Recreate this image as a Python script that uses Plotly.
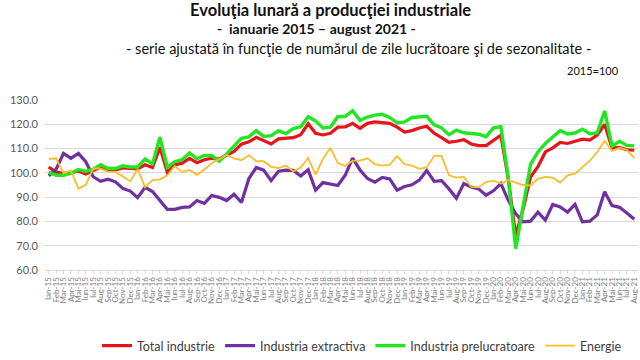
import plotly.graph_objects as go

luni = ["Ian", "Feb", "Mar", "Apr", "Mai", "Iun", "Iul", "Aug", "Sep", "Oct", "Nov", "Dec"]
categories = [f"{m}-{y}" for y in range(15, 22) for m in luni][:80]

total_industrie = [102.4, 100.3, 99.8, 100.0, 100.8, 99.5, 101.0, 102.3, 101.3, 101.2, 102.0, 101.8,
                   101.6, 103.3, 102.2, 110.5, 100.3, 103.3, 104.0, 106.0, 104.2, 105.4, 106.0, 105.7,
                   107.3, 108.8, 111.8, 112.8, 114.6, 113.1, 111.9, 114.0, 114.2, 114.5, 115.7, 120.2,
                   116.3, 115.6, 116.3, 118.8, 118.9, 120.4, 118.3, 120.4, 121.0, 120.8, 120.4, 118.8,
                   116.8, 117.4, 118.5, 119.2, 116.3, 114.5, 112.6, 113.0, 113.7, 111.9, 111.2, 111.2,
                   113.5, 115.5, 97.5, 74.2, 85.0, 98.3, 102.5, 108.6, 110.3, 112.5, 112.1, 113.1,
                   113.9, 113.5, 115.5, 120.0, 110.2, 110.5, 109.5, 109.3]

industria_extractiva = [98.8, 101.5, 108.0, 106.0, 108.0, 104.6, 98.4, 96.5, 97.4, 96.3, 93.6, 92.5,
                        89.8, 94.0, 92.3, 88.8, 85.0, 85.0, 85.8, 86.0, 88.6, 87.4, 90.7, 89.9,
                        88.6, 91.2, 87.8, 97.6, 102.2, 101.1, 96.8, 100.7, 101.1, 101.0, 98.7, 101.3,
                        92.9, 96.0, 95.5, 94.8, 99.0, 106.1, 101.2, 97.7, 96.2, 98.1, 97.5, 92.9,
                        94.4, 95.1, 97.0, 101.0, 96.5, 96.8, 93.4, 89.5, 95.6, 94.2, 93.4, 90.8,
                        92.6, 95.6, 88.7, 83.2, 79.8, 80.1, 83.8, 80.5, 87.0, 86.0, 83.8, 87.0,
                        79.8, 80.1, 82.7, 92.2, 86.5, 85.8, 83.5, 80.9]

industria_prelucratoare = [100.2, 99.0, 99.0, 99.8, 101.4, 100.6, 101.5, 103.4, 101.8, 101.8, 102.9, 102.4,
                           102.4, 105.7, 103.7, 114.7, 102.3, 104.6, 105.4, 108.2, 105.8, 107.2, 107.1, 104.8,
                           107.8, 111.0, 114.2, 114.8, 117.4, 115.0, 115.3, 117.3, 116.2, 118.2, 119.0, 123.1,
                           121.4, 118.5, 118.8, 123.1, 123.3, 125.5, 121.6, 123.0, 123.8, 124.1, 122.8, 120.6,
                           121.0, 122.8, 123.1, 123.3, 119.8, 118.5, 115.7, 117.6, 116.5, 116.3, 115.9, 114.9,
                           118.5, 119.0, 98.0, 68.8, 86.0, 103.5, 108.6, 112.1, 114.8, 117.4, 116.0, 116.4,
                           118.0, 116.1, 116.4, 125.5, 111.0, 113.0, 111.3, 111.1]

energie = [105.7, 106.0, 99.8, 101.0, 93.5, 95.1, 101.8, 101.8, 100.4, 100.4, 98.5, 96.5,
           101.5, 94.1, 97.0, 97.3, 99.0, 102.8, 100.4, 101.2, 99.2, 101.4, 104.0, 105.6,
           107.4, 106.0, 105.2, 107.2, 104.8, 104.8, 102.5, 102.0, 103.0, 100.6, 102.2, 106.1,
           99.3, 105.7, 110.3, 104.0, 102.8, 105.0, 105.0, 106.0, 103.6, 103.0, 103.3, 106.9,
           103.6, 103.0, 101.7, 102.2, 107.0, 107.0, 99.0, 98.0, 98.3, 94.2, 94.0, 96.2,
           96.8, 95.6, 97.0, 96.0, 95.0, 94.8, 97.5, 98.3, 98.0, 96.0, 99.0, 99.7,
           102.2, 105.0, 108.6, 113.1, 109.0, 110.4, 109.5, 106.1]

y_ticks = [60, 70, 80, 90, 100, 110, 120, 130]

series = [
    ("Total industrie", total_industrie, "#E8141C", 3.2),
    ("Industria extractiva", industria_extractiva, "#7030A0", 3.2),
    ("Industria prelucratoare", industria_prelucratoare, "#22E622", 3.4),
    ("Energie", energie, "#F7BE2A", 1.8),
]

fig = go.Figure()
for name, vals, color, w in series:
    fig.add_trace(go.Scatter(x=categories, y=vals, mode="lines", name=name,
                             line=dict(color=color, width=w)))

L, R, T, B = 45, 2, 100, 90
pw, ph = 640 - L - R, 360 - T - B


def px(x):
    return (x - L) / pw


def py(y):
    return (360 - B - y) / ph


font = "Lato, 'Open Sans', sans-serif"
fig.update_layout(
    width=640, height=360,
    margin=dict(l=L, r=R, t=T, b=B, autoexpand=False),
    paper_bgcolor="white", plot_bgcolor="white",
    font=dict(family=font, color="#404040"),
    showlegend=True,
    legend=dict(orientation="h", x=px(362), xanchor="center", y=py(346), yanchor="middle",
                font=dict(size=12.5, color="#404040"), itemwidth=30, tracegroupgap=0),
    xaxis=dict(type="category", range=[-0.5, 79.5], tickmode="linear", dtick=1, tickangle=-90,
               tickfont=dict(size=8, color="#808080"), automargin=False,
               showgrid=False, showline=True, linecolor="#d9d9d9", ticks="outside", ticklen=3,
               tickcolor="#d9d9d9", fixedrange=True),
    yaxis=dict(range=[60, 130], tickvals=y_ticks, tickformat=".1f", tickfont=dict(size=11, color="#595959"),
               showgrid=True, gridcolor="#d9d9d9", gridwidth=1, zeroline=False, showline=False,
               ticks="", ticklabelstandoff=6, automargin=False),
    annotations=[
        dict(text="<b>Evoluţia lunară a producţiei industriale</b>", x=px(330), y=py(10),
             xref="paper", yref="paper", yanchor="middle", showarrow=False,
             font=dict(size=16.5, color="#111111")),
        dict(text="<b>-  ianuarie 2015 – august 2021 -</b>", x=px(316), y=py(29),
             xref="paper", yref="paper", yanchor="middle", showarrow=False,
             font=dict(size=14, color="#111111")),
        dict(text="- serie ajustată în funcţie de numărul de zile lucrătoare şi de sezonalitate -",
             x=px(358), y=py(49), xref="paper", yref="paper", yanchor="middle", showarrow=False,
             font=dict(size=14.5, color="#111111")),
        dict(text="2015=100", x=px(621), y=py(70), xanchor="right", xref="paper", yref="paper",
             yanchor="middle", showarrow=False, font=dict(size=11, color="#111111")),
    ],
)

fig.write_html("out.html", config={"displayModeBar": False},
               post_script="document.body.style.margin='0';")
